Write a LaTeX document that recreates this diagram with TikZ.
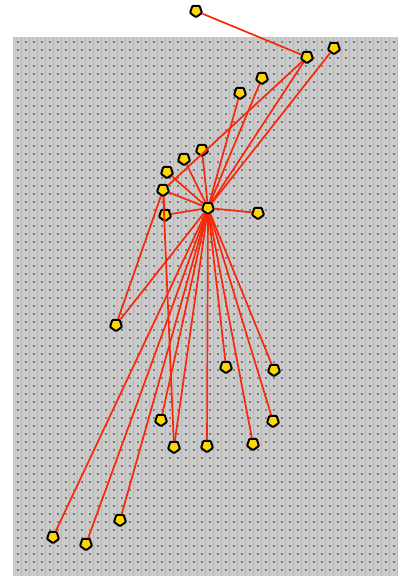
\documentclass[tikz,border=0pt]{standalone}
\usetikzlibrary{shapes.geometric}
\definecolor{bggray}{RGB}{202,202,202}
\definecolor{dotgray}{RGB}{125,125,125}
\definecolor{finegray}{RGB}{184,184,184}
\definecolor{edgered}{RGB}{250,40,10}
\definecolor{nodeyellow}{RGB}{255,215,0}
\tikzset{
  vtx/.style={regular polygon, regular polygon sides=5, shape border rotate=180,
    minimum size=12.5pt, inner sep=0pt, fill=nodeyellow, draw=black, line width=2pt,
    rounded corners=0.9pt},
  link/.style={draw=edgered, line width=1.7pt}
}
\begin{document}
\begin{tikzpicture}[x=1pt,y=-1pt]
\useasboundingbox (0,0) rectangle (400,576);
\fill[bggray] (13,37) rectangle (398,576);
\foreach \i in {0,...,47}{
  \draw[finegray, line width=0.6pt] ({21+8*\i},37) -- ({21+8*\i},576);
}
\foreach \i in {0,...,47}{
  \foreach \j in {0,...,66}{
    \fill[dotgray] ({17+8*\i},{41+8*\j}) rectangle ++(1.5,1.5);
  }
}
\node[vtx] (A) at (196,11) {};
\node[vtx] (B) at (307,57) {};
\node[vtx] (C) at (334,48) {};
\node[vtx] (D) at (262,78) {};
\node[vtx] (E) at (240,93) {};
\node[vtx] (F) at (202,150) {};
\node[vtx] (G) at (184,159) {};
\node[vtx] (H) at (167,172) {};
\node[vtx] (I) at (163,190) {};
\node[vtx] (J) at (165,215) {};
\node[vtx] (K) at (208,208) {};
\node[vtx] (L) at (258,213) {};
\node[vtx] (M) at (116,325) {};
\node[vtx] (N) at (226,367) {};
\node[vtx] (O) at (274,370) {};
\node[vtx] (P) at (161,420) {};
\node[vtx] (Q) at (273,421) {};
\node[vtx] (R) at (174,447) {};
\node[vtx] (S) at (207,446) {};
\node[vtx] (T) at (253,444) {};
\node[vtx] (U) at (53,537) {};
\node[vtx] (V) at (86,544) {};
\node[vtx] (W) at (120,520) {};
\foreach \a/\b in {A/B,B/I,B/K,C/K,D/K,E/K,F/K,G/K,H/K,I/K,J/K,L/K,I/J,M/K,M/I,I/R,
  K/P,K/R,K/S,K/T,K/N,K/O,K/Q,K/U,K/V,K/W}{
  \path[link] (\a) -- (\b);
}
\end{tikzpicture}
\end{document}
